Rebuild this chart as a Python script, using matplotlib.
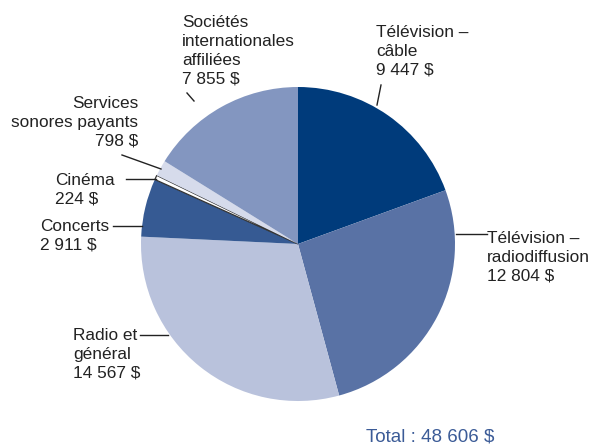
import matplotlib.pyplot as plt

plt.rcParams['font.family'] = ['Liberation Sans', 'DejaVu Sans']

# revenus par secteur, en milliers de dollars
secteurs = ['Télévision –\ncâble', 'Télévision –\nradiodiffusion', 'Radio et\ngénéral',
            'Concerts', 'Cinéma', 'Services\nsonores payants',
            'Sociétés\ninternationales\naffiliées']
montants = [9447, 12804, 14567, 2911, 224, 798, 7855]
couleurs = ['#003b7b', '#5972a5', '#b9c2dc', '#365a93', '#ffffff', '#d6dbeb', '#8396c0']


def fmt(v):
    return f'{v:,}'.replace(',', ' ') + ' $'


W, H = 590, 446
fig = plt.figure(figsize=(W / 100, H / 100), dpi=100)
ax = fig.add_axes([0, 0, 1, 1])

cx, cy, r = 298, H - 244, 157
wedges, _ = ax.pie(montants, colors=couleurs, startangle=90, counterclock=False,
                   center=(cx, cy), radius=r, frame=True,
                   wedgeprops=dict(linewidth=0))
# la tranche du cinéma est trop mince: on la souligne d'un trait
wedges[4].set_edgecolor('#333333')
wedges[4].set_linewidth(0.9)
ax.set_xlim(0, W)
ax.set_ylim(0, H)
ax.set_aspect('equal')
ax.axis('off')

txt = dict(fontsize=12.4, color='#222222', linespacing=1.33)


def etiquette(i, x, y, ha='left'):
    ax.text(x, H - y, secteurs[i] + '\n' + fmt(montants[i]), ha=ha, va='top',
            multialignment=ha, **txt)


def trait(x0, y0, x1, y1):
    ax.plot([x0, x1], [H - y0, H - y1], color='#222222', lw=1)


etiquette(0, 376, 25)
trait(381, 85, 377, 105)
etiquette(1, 487, 231)
trait(456, 234, 487, 234)
etiquette(2, 73, 328)
trait(140, 335, 168, 335)
etiquette(3, 40, 219)
trait(113, 226, 142, 226)
etiquette(4, 55, 173)
trait(126, 179, 156, 179)
etiquette(5, 138, 96, ha='right')
trait(122, 155, 161, 169)
etiquette(6, 182, 15)
trait(187, 93, 194, 101)

ax.text(366, H - 437, 'Total : ' + fmt(sum(montants)), ha='left', va='center',
        fontsize=13.5, color='#3b5b97')

fig.savefig('out.png', dpi=100)
